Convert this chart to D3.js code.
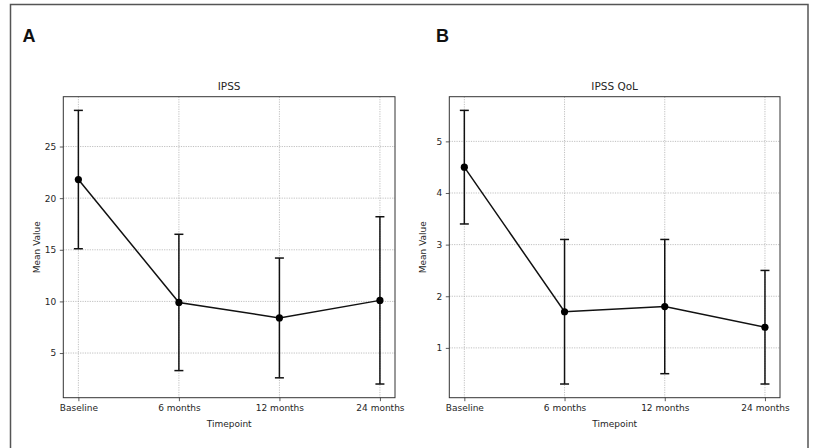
<!DOCTYPE html>
<html>
<head>
<meta charset="utf-8">
<script src="https://cdn.jsdelivr.net/npm/d3@7"></script>
<style>
  html, body { margin: 0; padding: 0; background: #fff; }
  svg { display: block; }
  text { font-family: "DejaVu Sans", sans-serif; fill: #262626; }
</style>
</head>
<body>
<svg id="chart" width="814" height="448"></svg>
<script>
const categories = ["Baseline", "6 months", "12 months", "24 months"];
const ipssMean = [21.8, 9.9, 8.4, 10.1];
const ipssSD = [6.7, 6.6, 5.8, 8.1];
const ipssTicks = [5, 10, 15, 20, 25];
const qolMean = [4.5, 1.7, 1.8, 1.4];
const qolSD = [1.1, 1.4, 1.3, 1.1];
const qolTicks = [1, 2, 3, 4, 5];

const svg = d3.select("#chart");

// outer frame
svg.append("rect")
  .attr("x", 10.5).attr("y", 4.5)
  .attr("width", 797.5).attr("height", 470)
  .attr("fill", "none").attr("stroke", "#555").attr("stroke-width", 1.5);

function panel(opts) {
  const { left, right, top, bottom, mean, sd, ticks, title, letter, letterX } = opts;
  const g = svg.append("g");

  const x = d3.scalePoint().domain(categories).range([left, right]).padding(0.15);
  const lo = d3.min(mean.map((m, i) => m - sd[i]));
  const hi = d3.max(mean.map((m, i) => m + sd[i]));
  const pad = (hi - lo) * 0.05;
  const y = d3.scaleLinear().domain([lo - pad, hi + pad]).range([bottom, top]);

  // letter
  g.append("text").attr("x", letterX).attr("y", 41.5)
    .style("font-family", "'Liberation Sans', Arial, sans-serif")
    .style("font-weight", "bold").style("font-size", "18px").style("fill", "#111")
    .text(letter);

  // grid
  g.append("g").selectAll("line").data(ticks).join("line")
    .attr("x1", left).attr("x2", right)
    .attr("y1", d => y(d)).attr("y2", d => y(d))
    .attr("stroke", "#b0b0b0").attr("stroke-width", 0.8).attr("stroke-dasharray", "1.2,1.2");
  g.append("g").selectAll("line").data(categories).join("line")
    .attr("x1", d => x(d)).attr("x2", d => x(d))
    .attr("y1", top).attr("y2", bottom)
    .attr("stroke", "#b0b0b0").attr("stroke-width", 0.8).attr("stroke-dasharray", "1.2,1.2");

  // axes
  const xAxis = g.append("g").attr("transform", `translate(0,${bottom})`)
    .call(d3.axisBottom(x).tickSize(3.5).tickPadding(3.5).tickSizeOuter(0));
  const yAxis = g.append("g").attr("transform", `translate(${left},0)`)
    .call(d3.axisLeft(y).tickValues(ticks).tickFormat(d3.format("d"))
      .tickSize(3.5).tickPadding(3.5).tickSizeOuter(0));
  [xAxis, yAxis].forEach(a => {
    a.select(".domain").remove();
    a.selectAll(".tick line").attr("stroke", "#333").attr("stroke-width", 0.8);
    a.selectAll(".tick text").style("font-family", "'DejaVu Sans', sans-serif")
      .style("font-size", "9px").style("fill", "#262626");
  });

  // frame
  g.append("rect").attr("x", left).attr("y", top)
    .attr("width", right - left).attr("height", bottom - top)
    .attr("fill", "none").attr("stroke", "#333").attr("stroke-width", 1);

  // titles
  g.append("text").attr("x", (left + right) / 2).attr("y", 89.5)
    .attr("text-anchor", "middle").style("font-size", "10.5px").text(title);
  g.append("text").attr("x", (left + right) / 2).attr("y", 427)
    .attr("text-anchor", "middle").style("font-size", "9px").text("Timepoint");
  g.append("text")
    .attr("transform", `translate(${left - 25.6},${(top + bottom) / 2}) rotate(-90)`)
    .attr("text-anchor", "middle").attr("dominant-baseline", "middle")
    .style("font-size", "9px").text("Mean Value");

  const data = categories.map((c, i) => ({ c, m: mean[i], s: sd[i] }));

  // error bars
  const eb = g.append("g").attr("stroke", "#111").attr("stroke-width", 1.5);
  eb.selectAll("line.v").data(data).join("line").attr("class", "v")
    .attr("x1", d => x(d.c)).attr("x2", d => x(d.c))
    .attr("y1", d => y(d.m - d.s)).attr("y2", d => y(d.m + d.s));
  eb.selectAll("line.t").data(data).join("line").attr("class", "t")
    .attr("x1", d => x(d.c) - 4.5).attr("x2", d => x(d.c) + 4.5)
    .attr("y1", d => y(d.m + d.s)).attr("y2", d => y(d.m + d.s));
  eb.selectAll("line.b").data(data).join("line").attr("class", "b")
    .attr("x1", d => x(d.c) - 4.5).attr("x2", d => x(d.c) + 4.5)
    .attr("y1", d => y(d.m - d.s)).attr("y2", d => y(d.m - d.s));

  // line
  g.append("path").datum(data)
    .attr("fill", "none").attr("stroke", "#111").attr("stroke-width", 1.5)
    .attr("d", d3.line().x(d => x(d.c)).y(d => y(d.m)));

  // markers
  g.append("g").selectAll("circle").data(data).join("circle")
    .attr("cx", d => x(d.c)).attr("cy", d => y(d.m)).attr("r", 3.6)
    .attr("fill", "#000");
}

panel({ left: 63.3, right: 395, top: 96.7, bottom: 397.7,
  mean: ipssMean, sd: ipssSD, ticks: ipssTicks, title: "IPSS", letter: "A", letterX: 22.5 });
panel({ left: 449.3, right: 780, top: 96.7, bottom: 397.7,
  mean: qolMean, sd: qolSD, ticks: qolTicks, title: "IPSS QoL", letter: "B", letterX: 436 });
</script>
</body>
</html>
